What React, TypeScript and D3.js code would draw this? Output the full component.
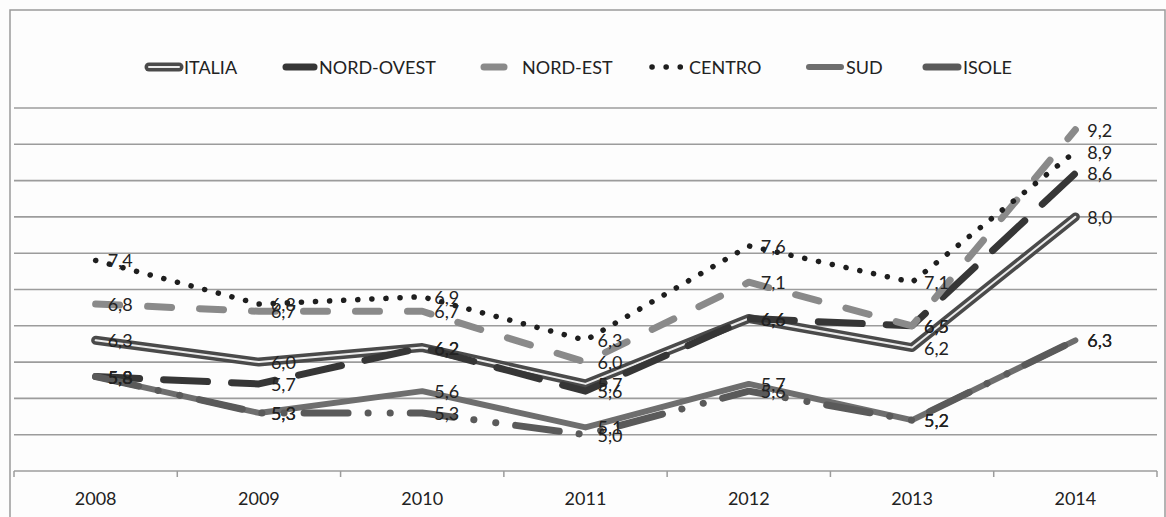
import React from "react";
import * as d3 from "d3";

const years = ["2008", "2009", "2010", "2011", "2012", "2013", "2014"];
const italia = [6.3, 6.0, 6.2, 5.7, 6.6, 6.2, 8.0];
const nordOvest = [5.8, 5.7, 6.2, 5.6, 6.6, 6.5, 8.6];
const nordEst = [6.8, 6.7, 6.7, 6.0, 7.1, 6.5, 9.2];
const centro = [7.4, 6.8, 6.9, 6.3, 7.6, 7.1, 8.9];
const sud = [5.8, 5.3, 5.6, 5.1, 5.7, 5.2, 6.3];
const isole = [5.8, 5.3, 5.3, 5.0, 5.6, 5.2, 6.3];
const seriesNames = ["ITALIA", "NORD-OVEST", "NORD-EST", "CENTRO", "SUD", "ISOLE"];
const yTicks = [5.0, 5.5, 6.0, 6.5, 7.0, 7.5, 8.0, 8.5, 9.0, 9.5];

type Style = { color: string; width: number; dash?: string; cap: "round" | "butt"; inner?: string };
const styles: Style[] = [
  { color: "#4a4a4a", width: 9, cap: "round", inner: "#ececec" },
  { color: "#363636", width: 7, dash: "44 24", cap: "round" },
  { color: "#8a8a8a", width: 7, dash: "24 28", cap: "round" },
  { color: "#1e1e1e", width: 5.5, dash: "0.1 14", cap: "round" },
  { color: "#6e6e6e", width: 6, cap: "round" },
  { color: "#5a5a5a", width: 7, dash: "44 20 0.1 22 0.1 20", cap: "round" },
];

const FONT = "Lato, 'Open Sans', sans-serif";

export default function App() {
  const W = 1166, H = 517;
  const x = d3.scaleBand<string>().domain(years).range([14, 1157]).padding(0);
  const cx = (yr: string) => (x(yr) as number) + x.bandwidth() / 2;
  const y = d3.scaleLinear().domain([4.5, 9.5]).range([471, 108]);
  const data = [italia, nordOvest, nordEst, centro, sud, isole];
  const line = d3.line<number>().x((_, i) => cx(years[i])).y((v) => y(v));
  const fmt = (v: number) => d3.format(".1f")(v).replace(".", ",");
  const boundaries = [...years.map((yr) => x(yr) as number), 1157];

  const legendX = [145, 282, 480, 648, 805, 922];
  const legendW = [38, 36, 28, 40, 40, 40];
  const legendY = 67;

  const seriesPath = (vals: number[], s: Style, key: string, d?: string) => {
    const dd = d ?? (line(vals) as string);
    return (
      <g key={key}>
        <path d={dd} fill="none" stroke={s.color} strokeWidth={s.width} strokeDasharray={s.dash}
          strokeLinecap={s.cap} strokeLinejoin="round" />
        {s.inner && (
          <path d={dd} fill="none" stroke={s.inner} strokeWidth={2} strokeDasharray={s.dash}
            strokeLinecap="round" strokeLinejoin="round" />
        )}
      </g>
    );
  };

  return (
    <svg width={W} height={H} style={{ position: "absolute", left: 0, top: 0, background: "#fff" }}
      fontFamily={FONT}>
      <rect x={0} y={0} width={W} height={H} fill="#fdfdfd" />
      <rect x={10} y={10} width={1155} height={520} fill="none" stroke="#9a9a9a" strokeWidth={1.5} />
      {yTicks.map((t) => (
        <line key={t} x1={14} x2={1157} y1={y(t)} y2={y(t)} stroke="#9c9c9c" strokeWidth={1.6} />
      ))}
      <line x1={14} x2={1157} y1={y(4.5)} y2={y(4.5)} stroke="#9c9c9c" strokeWidth={1.6} />
      {boundaries.map((b, i) => (
        <line key={i} x1={b} x2={b} y1={y(4.5)} y2={y(4.5) + 6} stroke="#9c9c9c" strokeWidth={1.5} />
      ))}
      {years.map((yr) => (
        <text key={yr} x={cx(yr)} y={498} textAnchor="middle" dominantBaseline="central"
          fontSize={18} fill="#222">{yr}</text>
      ))}
      {data.map((vals, i) => seriesPath(vals, styles[i], "s" + i))}
      {data.map((vals, si) =>
        vals.map((v, i) => (
          <text key={si + "-" + i} x={cx(years[i]) + 12} y={y(v)} dominantBaseline="central"
            fontSize={18} fill="#222">{fmt(v)}</text>
        ))
      )}
      {seriesNames.map((n, i) => {
        const x0 = legendX[i];
        const d = `M${x0 + 4},${legendY}L${x0 + legendW[i] - 4},${legendY}`;
        const s = { ...styles[i], dash: i === 3 ? "0.1 14" : undefined };
        return (
          <g key={n}>
            {seriesPath([], s, "l" + i, d)}
            <text x={x0 + legendW[i] + (i === 2 ? 14 : 1)} y={legendY} dominantBaseline="central"
              fontSize={18} fill="#222">{n}</text>
          </g>
        );
      })}
    </svg>
  );
}
